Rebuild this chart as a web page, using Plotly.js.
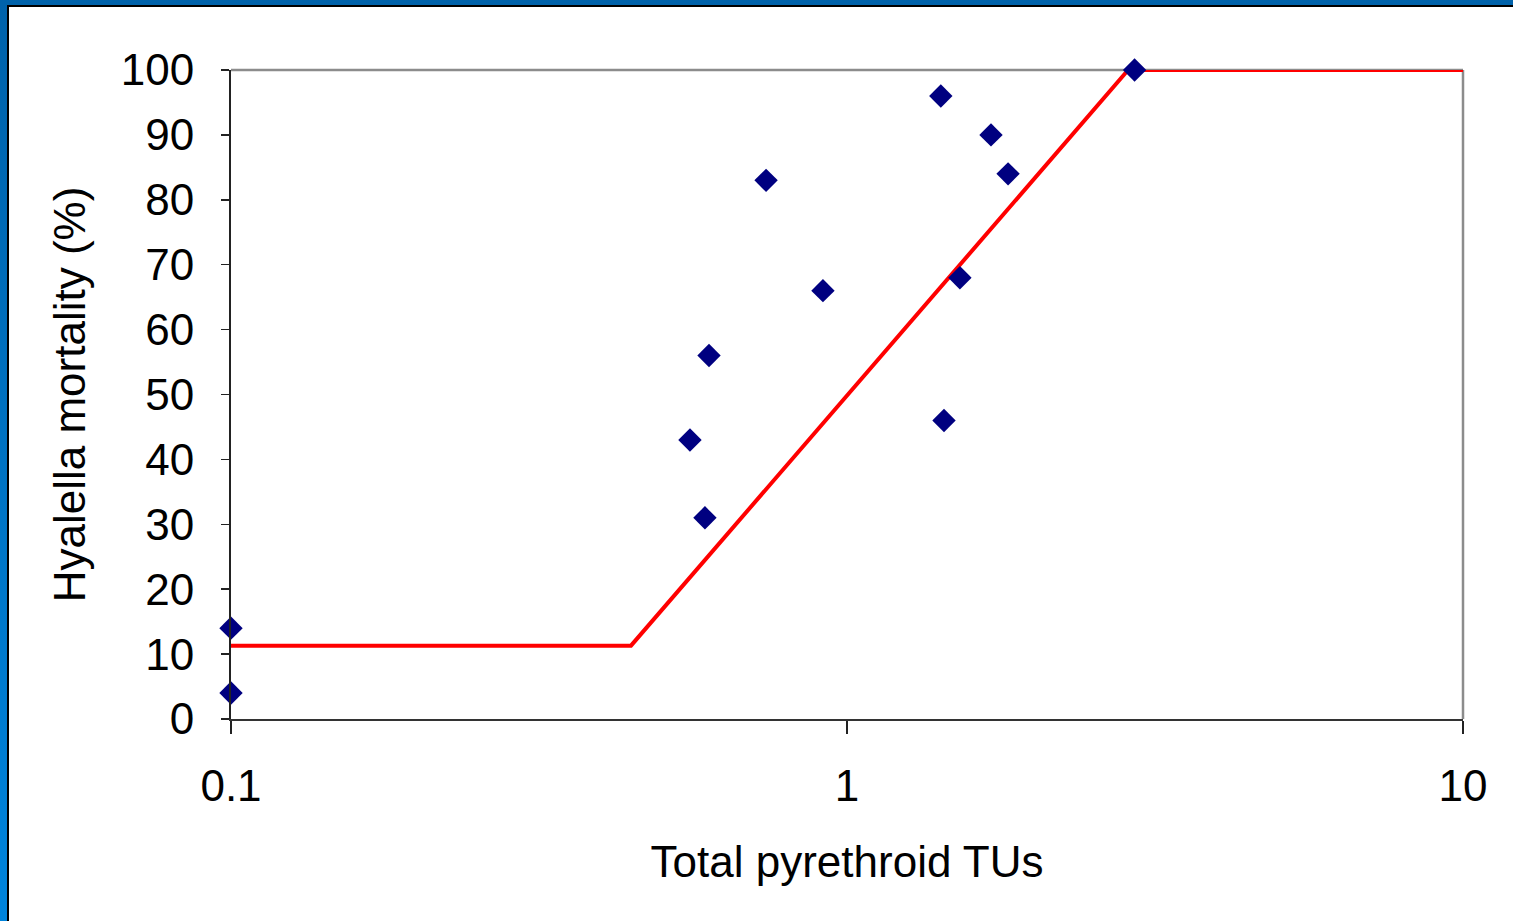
<!DOCTYPE html>
<html>
<head>
<meta charset="utf-8">
<script src="https://cdn.plot.ly/plotly-3.0.1.min.js"></script>
<style>
  html, body { margin: 0; padding: 0; width: 1513px; height: 921px; overflow: hidden;
    background: linear-gradient(to bottom, #0062aa, #0084dc); }
  #frame { position: absolute; left: 7px; top: 5px; width: 1506px; height: 916px;
    border-top: 2px solid #000; border-left: 2px solid #000; background: #fff; }
  #chart { position: absolute; left: 0; top: 0; width: 1504px; height: 914px; }
</style>
</head>
<body>
<div id="frame"><div id="chart"></div></div>
<script>
// Observed data: total pyrethroid toxic units vs Hyalella mortality (%)
const obsTU = [0.1, 0.1, 0.556, 0.588, 0.597, 0.739, 0.914, 1.42, 1.437, 1.525, 1.713, 1.826, 2.93];
const obsMortality = [14, 4, 43, 31, 56, 83, 66, 96, 46, 68, 90, 84, 100];

// Fitted model line (breakpoints)
const fitTU = [0.1, 0.446, 2.86, 10];
const fitMortality = [11.3, 11.3, 100, 100];

// Tick labels
const xTickVals = [0.1, 1, 10];
const xTickText = ['0.1', '1', '10'];
const yTickVals = [0, 10, 20, 30, 40, 50, 60, 70, 80, 90, 100];

const font = 'Liberation Sans, Arial, sans-serif';

const traces = [
  {
    x: fitTU, y: fitMortality, type: 'scatter', mode: 'lines',
    line: { color: '#ff0000', width: 4 }, cliponaxis: false, hoverinfo: 'skip'
  },
  {
    x: obsTU, y: obsMortality, type: 'scatter', mode: 'markers',
    marker: { symbol: 'diamond', size: 18, color: '#000080', line: { width: 0 } },
    cliponaxis: false
  }
];

const layout = {
  width: 1504, height: 914,
  margin: { l: 222, r: 50, t: 63, b: 202 },
  paper_bgcolor: '#ffffff', plot_bgcolor: '#ffffff',
  showlegend: false,
  font: { family: font, color: '#000', size: 44 },
  xaxis: {
    type: 'log', range: [-1, 1],
    tickvals: xTickVals, ticktext: xTickText,
    ticks: 'outside', ticklen: 13, tickwidth: 1.5, tickcolor: '#222',
    ticklabelstandoff: 14,
    showline: true, linecolor: '#333', linewidth: 2,
    showgrid: false, zeroline: false,
    tickfont: { family: font, size: 44, color: '#000' },
    title: { text: 'Total pyrethroid TUs', font: { family: font, size: 44, color: '#000' }, standoff: 37 },
    automargin: false
  },
  yaxis: {
    range: [0, 100],
    tickvals: yTickVals,
    ticks: 'outside', ticklen: 8, tickwidth: 1.5, tickcolor: '#222',
    ticklabelstandoff: 18,
    showline: true, linecolor: '#222', linewidth: 2,
    showgrid: false, zeroline: false,
    tickfont: { family: font, size: 44, color: '#000' },
    title: { text: 'Hyalella mortality (%)', font: { family: font, size: 44, color: '#000' }, standoff: 21 },
    automargin: false
  },
  shapes: [
    { type: 'line', xref: 'paper', yref: 'paper', x0: 0, x1: 1, y0: 1, y1: 1,
      line: { color: '#8c8c8c', width: 2.5 }, layer: 'below' },
    { type: 'line', xref: 'paper', yref: 'paper', x0: 1, x1: 1, y0: 0, y1: 1,
      line: { color: '#8c8c8c', width: 2.5 }, layer: 'below' }
  ]
};

Plotly.newPlot('chart', traces, layout, { staticPlot: true, displayModeBar: false });
</script>
</body>
</html>
